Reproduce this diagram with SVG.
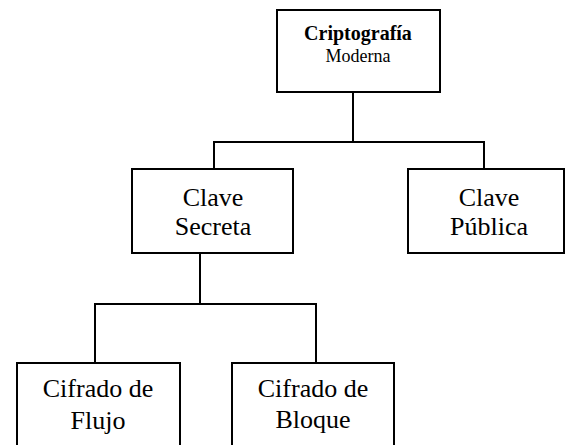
<svg xmlns="http://www.w3.org/2000/svg" width="567" height="445" viewBox="0 0 567 445">
<style>
.box{fill:#fff;stroke:#000;stroke-width:2}
.ln{fill:none;stroke:#000;stroke-width:2}
.t{font-family:"Liberation Serif","Times New Roman",serif;fill:#000;text-anchor:middle}
.big{font-size:26px}
</style>
<rect width="567" height="445" fill="#fff"/>
<g id="connectors">
<path class="ln" d="M353 92V142M214 169V142H484V169"/>
<path class="ln" d="M200 253V304M95 363V304H316V363"/>
</g>
<g id="n-root">
<rect class="box" x="277" y="10" width="163" height="82"/>
<text class="t" x="358" y="40" font-size="20" font-weight="bold">Criptografía</text>
<text class="t" x="358" y="62" font-size="18">Moderna</text>
</g>
<g id="n-secreta">
<rect class="box" x="132" y="169" width="161" height="84"/>
<text class="t big" x="213" y="206">Clave</text>
<text class="t big" x="213" y="235">Secreta</text>
</g>
<g id="n-publica">
<rect class="box" x="408" y="169" width="156" height="84"/>
<text class="t big" x="489" y="206">Clave</text>
<text class="t big" x="489" y="235">Pública</text>
</g>
<g id="n-flujo">
<rect class="box" x="17" y="363" width="163" height="100"/>
<text class="t big" x="98" y="397">Cifrado de</text>
<text class="t big" x="98" y="429">Flujo</text>
</g>
<g id="n-bloque">
<rect class="box" x="232" y="363" width="162" height="100"/>
<text class="t big" x="313" y="397">Cifrado de</text>
<text class="t big" x="313" y="428">Bloque</text>
</g>
</svg>
